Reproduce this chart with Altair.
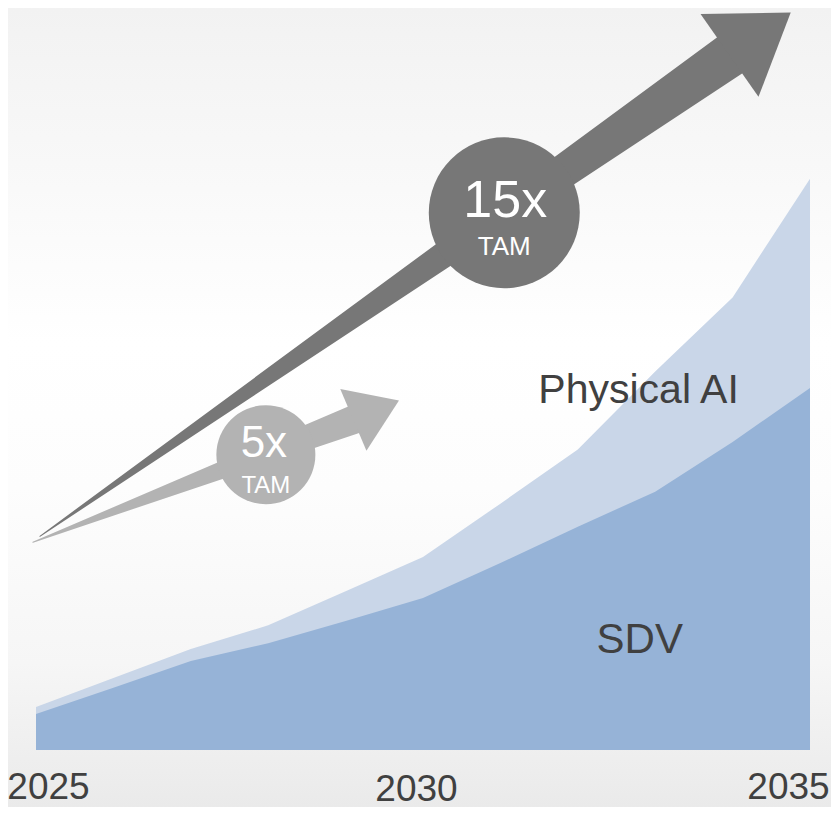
import altair as alt
import pandas as pd

# ---- data -------------------------------------------------------------
years = [2025, 2026, 2027, 2028, 2029, 2030, 2031, 2032, 2033, 2034, 2035]
sdv = [4.85, 8.4, 12.0, 14.4, 17.4, 20.5, 25.2, 30.1, 34.8, 41.5, 48.8]
physical_ai = [0.95, 1.3, 1.6, 2.4, 4.0, 5.5, 8.0, 10.4, 16.2, 19.5, 28.2]
tick_years = [2025, 2030, 2035]

# growth arrows (annotation geometry in data units: year, value)
big_arrow_x = [2025.05, 2033.96]
big_arrow_y = [28.8, 93.6]
big_arrow_w = [0, 44]
small_arrow_x = [2024.96, 2029.10]
small_arrow_y = [28.0, 44.5]
small_arrow_w = [0, 28.6]

big_badge = {"x": 2031.05, "y": 72.4, "big": "15x", "small": "TAM"}
small_badge = {"x": 2027.97, "y": 39.8, "big": "5x", "small": "TAM"}

series_labels = ["Physical AI", "SDV"]
series_label_x = [2031.49, 2032.80]
series_label_y = [46.8, 13.1]

# ---- tables -----------------------------------------------------------
df = pd.DataFrame({"year": years, "SDV": sdv, "PhysicalAI": physical_ai})
df["total"] = df["SDV"] + df["PhysicalAI"]

big_arrow = pd.DataFrame({"year": big_arrow_x, "value": big_arrow_y, "w": big_arrow_w})
small_arrow = pd.DataFrame({"year": small_arrow_x, "value": small_arrow_y, "w": small_arrow_w})
big_head = big_arrow.iloc[[-1]]
small_head = small_arrow.iloc[[-1]]
big_b = pd.DataFrame([{"year": big_badge["x"], "value": big_badge["y"],
                       "big": big_badge["big"], "small": big_badge["small"]}])
small_b = pd.DataFrame([{"year": small_badge["x"], "value": small_badge["y"],
                         "big": small_badge["big"], "small": small_badge["small"]}])
lab_pa = pd.DataFrame({"year": [series_label_x[0]], "value": [series_label_y[0]], "t": [series_labels[0]]})
lab_sdv = pd.DataFrame({"year": [series_label_x[1]], "value": [series_label_y[1]], "t": [series_labels[1]]})

FONT = "Liberation Sans"
DARK = "#777777"
LIGHT = "#b3b3b3"
TXT = "#404040"

xs = alt.Scale(domain=[2025, 2035], nice=False, zero=False)
ys = alt.Scale(domain=[0, 100], nice=False, zero=True)

axis_x = alt.Axis(
    values=tick_years, format="d", title=None, grid=False, domain=False,
    ticks=False, tickSize=0, labelFlush=False, labelOverlap=False,
    labelFont=FONT, labelFontSize=37, labelColor=TXT,
    labelBaseline="alphabetic", zindex=2,
    labelPadding={"condition": {"test": "datum.value === 2030", "value": 50}, "value": 48},
    labelOffset={"condition": [
        {"test": "datum.value === 2025", "value": 12},
        {"test": "datum.value === 2035", "value": -22},
    ], "value": -7},
)

X = lambda: alt.X("year:Q", scale=xs, axis=axis_x)
Y = lambda f="value": alt.Y(f"{f}:Q", scale=ys, axis=None)

# background gradient
bg = alt.Chart(alt.Data(values=[{"a": 1}])).mark_rect(
    fill=alt.Gradient(
        gradient="linear",
        stops=[
            alt.GradientStop(color="#f2f2f2", offset=0),
            alt.GradientStop(color="#ffffff", offset=0.42),
            alt.GradientStop(color="#fdfdfd", offset=0.6),
            alt.GradientStop(color="#f6f6f6", offset=0.82),
            alt.GradientStop(color="#eaeaea", offset=1),
        ],
        x1=0, x2=0, y1=0, y2=1,
    ),
    strokeWidth=0,
).encode(
    x=alt.value(-28), x2=alt.value(795), y=alt.value(0), y2=alt.value(799)
)

total_area = alt.Chart(df).mark_area(color="#c9d6e8", opacity=1, interpolate="linear").encode(
    x=X(), y=Y("total"),
)
sdv_area = alt.Chart(df).mark_area(color="#96b3d7", opacity=1, interpolate="linear").encode(
    x=X(), y=Y("SDV"),
)

def arrow(data, head, color, head_size, head_angle):
    shaft = alt.Chart(data).mark_trail(color=color, opacity=1).encode(
        x=X(), y=Y(), size=alt.Size("w:Q", scale=None, legend=None),
    )
    tip = alt.Chart(head).mark_point(
        shape="M-1,0L1,0L0,-1.48Z", filled=True, fill=color, opacity=1,
        strokeWidth=0, size=head_size, angle=head_angle,
    ).encode(x=X(), y=Y())
    return shaft + tip

def badge(data, color, size, big_fs, big_dy, big_dx, small_fs, small_dy):
    circ = alt.Chart(data).mark_circle(color=color, opacity=1, size=size).encode(x=X(), y=Y())
    t1 = alt.Chart(data).mark_text(
        font=FONT, fontSize=big_fs, color="#ffffff", baseline="alphabetic",
        align="center", dy=big_dy, dx=big_dx,
    ).encode(x=X(), y=Y(), text="big:N")
    t2 = alt.Chart(data).mark_text(
        font=FONT, fontSize=small_fs, color="#ffffff", baseline="alphabetic",
        align="center", dy=small_dy,
    ).encode(x=X(), y=Y(), text="small:N")
    return circ + t1 + t2

big = arrow(big_arrow, big_head, DARK, 10201, 55)
small = arrow(small_arrow, small_head, LIGHT, 4489, 67)
big_badge_c = badge(big_b, DARK, 22801, 52, 4.5, 1, 26, 42.5)
small_badge_c = badge(small_b, LIGHT, 9801, 44, 2, -2, 24, 38)

pa_text = alt.Chart(lab_pa).mark_text(
    font=FONT, fontSize=41, color=TXT, align="left", baseline="alphabetic"
).encode(x=X(), y=Y(), text="t:N")
sdv_text = alt.Chart(lab_sdv).mark_text(
    font=FONT, fontSize=42, color=TXT, align="center", baseline="alphabetic"
).encode(x=X(), y=Y(), text="t:N")

chart = alt.layer(
    bg, total_area, sdv_area, big, small, big_badge_c, small_badge_c, pa_text, sdv_text
).properties(
    width=774, height=742,
    autosize=alt.AutoSizeParams(type="none"),
    padding={"left": 28, "top": 0, "right": 21, "bottom": 57},
    background="#ffffff",
).configure_view(stroke=None)

chart.save("out.html", embed_options={"renderer": "svg", "actions": False})
